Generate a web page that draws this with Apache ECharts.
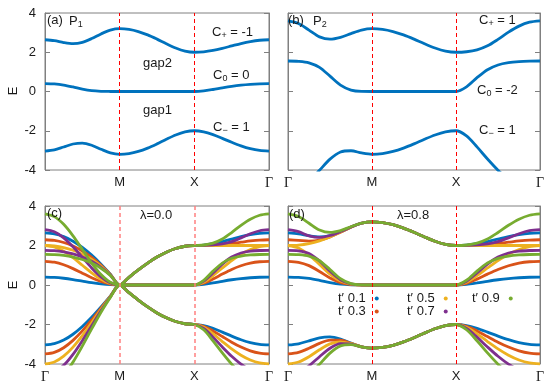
<!DOCTYPE html>
<html>
<head>
<meta charset="utf-8">
<script src="https://cdn.jsdelivr.net/npm/echarts@6/dist/echarts.min.js"></script>
<style>
  html, body { margin: 0; padding: 0; background: #fff; }
  #bands { width: 556px; height: 389px; }
</style>
</head>
<body>
<div id="bands"></div>
<script>
// k-path Γ(0) - M(1) - X(2) - Γ(3), eight steps per segment
const kPath = [0, 0.125, 0.25, 0.375, 0.5, 0.625, 0.75, 0.875,
  1, 1.125, 1.25, 1.375, 1.5, 1.625, 1.75, 1.875,
  2, 2.125, 2.25, 2.375, 2.5, 2.625, 2.75, 2.875, 3];
const kNames = ["Γ", "M", "X", "Γ"];
const kNamesA = ["", "M", "X", "Γ"];
const energyTicks = [-4, -2, 0, 2, 4];
const tPrimes = ["t′ 0.1", "t′ 0.3", "t′ 0.5", "t′ 0.7", "t′ 0.9"];

// Γ -> M, lambda = 0.0 (rows: t' = 0.1 ... 0.9)
const gmUp0 = [
  [2.636, 2.589, 2.448, 2.218, 1.903, 1.511, 1.054, 0.544, 0],
  [2.291, 2.256, 2.151, 1.973, 1.722, 1.397, 0.998, 0.530, 0],
  [2.0, 1.974, 1.896, 1.760, 1.562, 1.293, 0.946, 0.515, 0],
  [1.756, 1.737, 1.679, 1.575, 1.419, 1.198, 0.896, 0.501, 0],
  [1.553, 1.539, 1.495, 1.416, 1.293, 1.111, 0.850, 0.488, 0]
];
const gmMid0 = [
  [0.4, 0.385, 0.341, 0.277, 0.2, 0.123, 0.059, 0.015, 0],
  [1.2, 1.154, 1.024, 0.830, 0.6, 0.370, 0.176, 0.046, 0],
  [2.0, 1.924, 1.707, 1.383, 1.0, 0.617, 0.293, 0.076, 0],
  [2.8, 2.693, 2.390, 1.936, 1.4, 0.864, 0.410, 0.107, 0],
  [3.6, 3.463, 3.073, 2.489, 1.8, 1.111, 0.527, 0.137, 0]
];
const gmLo0 = [
  [-3.036, -2.973, -2.790, -2.494, -2.103, -1.635, -1.111, -0.560, 0],
  [-3.491, -3.411, -3.175, -2.803, -2.322, -1.768, -1.174, -0.575, 0],
  [-4.0, -3.898, -3.603, -3.143, -2.562, -1.910, -1.239, -0.592, 0],
  [-4.556, -4.430, -4.069, -3.511, -2.819, -2.062, -1.306, -0.608, 0],
  [-5.153, -5.002, -4.568, -3.905, -3.093, -2.223, -1.377, -0.625, 0]
];

// Γ -> M, lambda = 0.8
const gmUp8 = [
  [2.636, 2.592, 2.496, 2.441, 2.506, 2.696, 2.935, 3.127, 3.2],
  [2.291, 2.262, 2.226, 2.276, 2.436, 2.676, 2.931, 3.127, 3.2],
  [2.0, 2.024, 2.101, 2.236, 2.432, 2.679, 2.933, 3.127, 3.2],
  [2.8, 2.699, 2.492, 2.411, 2.507, 2.706, 2.939, 3.128, 3.2],
  [3.6, 3.466, 3.128, 2.785, 2.664, 2.757, 2.950, 3.128, 3.2]
];
const gmMid8 = [
  [0.4, 0.384, 0.330, 0.234, 0.122, 0.041, 0.008, 0.001, 0],
  [1.2, 1.151, 0.980, 0.682, 0.353, 0.122, 0.024, 0.001, 0],
  [2.0, 1.876, 1.529, 1.043, 0.551, 0.198, 0.039, 0.002, 0],
  [1.756, 1.733, 1.600, 1.222, 0.697, 0.266, 0.055, 0.003, 0],
  [1.553, 1.537, 1.462, 1.230, 0.784, 0.323, 0.069, 0.004, 0]
];
const gmLo8 = [
  [-3.036, -2.976, -2.827, -2.675, -2.628, -2.737, -2.943, -3.128, -3.2],
  [-3.491, -3.413, -3.206, -2.957, -2.789, -2.798, -2.955, -3.128, -3.2],
  [-4.0, -3.900, -3.630, -3.279, -2.983, -2.877, -2.972, -3.129, -3.2],
  [-4.556, -4.432, -4.093, -3.633, -3.204, -2.971, -2.993, -3.131, -3.2],
  [-5.153, -5.003, -4.589, -4.016, -3.448, -3.081, -3.019, -3.132, -3.2]
];

// M -> X, same for every t'
const mxUp0 = [0, 0.390, 0.765, 1.111, 1.414, 1.663, 1.848, 1.962, 2];
const mxMid0 = [0, 0, 0, 0, 0, 0, 0, 0, 0];
const mxLo0 = [0, -0.390, -0.765, -1.111, -1.414, -1.663, -1.848, -1.962, -2];
const mxUp8 = [3.2, 3.163, 3.054, 2.883, 2.668, 2.434, 2.217, 2.059, 2];
const mxMid8 = [0, 0, 0, 0, 0, 0, 0, 0, 0];
const mxLo8 = [-3.2, -3.163, -3.054, -2.883, -2.668, -2.434, -2.217, -2.059, -2];

// X -> Γ, same for both lambda
const xgUp = [
  [2, 2.024, 2.094, 2.199, 2.322, 2.444, 2.545, 2.612, 2.636],
  [2, 2.006, 2.026, 2.059, 2.108, 2.168, 2.229, 2.274, 2.291],
  [2, 2, 2, 2, 2, 2, 2, 2, 2],
  [2, 2.006, 2.029, 2.082, 2.195, 2.387, 2.597, 2.747, 2.8],
  [2, 2.026, 2.120, 2.327, 2.657, 3.023, 3.331, 3.531, 3.6]
];
const xgMid = [
  [0, 0.029, 0.102, 0.188, 0.266, 0.327, 0.368, 0.392, 0.4],
  [0, 0.087, 0.299, 0.551, 0.787, 0.974, 1.104, 1.177, 1.2],
  [0, 0.142, 0.474, 0.863, 1.236, 1.556, 1.798, 1.949, 2.0],
  [0, 0.193, 0.612, 1.058, 1.414, 1.619, 1.710, 1.746, 1.756],
  [0, 0.239, 0.704, 1.111, 1.352, 1.467, 1.521, 1.545, 1.553]
];
const xgLo = [
  [-2, -2.054, -2.196, -2.387, -2.588, -2.770, -2.914, -3.004, -3.036],
  [-2, -2.093, -2.324, -2.611, -2.895, -3.142, -3.332, -3.451, -3.491],
  [-2, -2.142, -2.474, -2.863, -3.236, -3.556, -3.798, -3.949, -4.0],
  [-2, -2.200, -2.641, -3.140, -3.609, -4.006, -4.307, -4.493, -4.556],
  [-2, -2.265, -2.824, -3.438, -4.009, -4.490, -4.852, -5.077, -5.153]
];

const colors = ["#0072bd", "#d95319", "#edb120", "#7e2f8e", "#77ac30"];
const frameColor = "#808080";
const textColor = "#1a1a1a";
const sans = '"Liberation Sans", Arial, sans-serif';

const chart = echarts.init(document.getElementById("bands"));

function band(gm, mx, xg) {
  const v = gm.concat(mx.slice(1), xg.slice(1));
  return kPath.map((k, i) => [k, v[i]]);
}

function lineSeries(g, name, color, data) {
  return {
    type: "line", name: name, xAxisIndex: g, yAxisIndex: g,
    data: data, smooth: 0.3, symbol: "none", showSymbol: false,
    color: color, lineStyle: { width: 2.8, color: color },
    z: 3, silent: true
  };
}

function dashed(g, color, width) {
  return {
    type: "line", xAxisIndex: g, yAxisIndex: g, data: [], z: 1, silent: true,
    markLine: {
      silent: true, symbol: "none", label: { show: false },
      lineStyle: { type: [4, 3], color: color, width: width },
      data: [{ xAxis: 1 }, { xAxis: 2 }]
    }
  };
}

const grids = [
  { left: 45, top: 13, width: 224, height: 157 },
  { left: 288, top: 13, width: 252, height: 157 },
  { left: 45, top: 206, width: 224, height: 158 },
  { left: 288, top: 206, width: 252, height: 158 }
].map(g => Object.assign(g, { show: true, borderColor: frameColor, borderWidth: 1 }));

const xAxes = grids.map((g, i) => ({
  gridIndex: i, type: "value", min: 0, max: 3, interval: 1,
  axisLine: { show: false }, axisTick: { show: false }, splitLine: { show: false },
  axisLabel: {
    margin: 6, fontSize: 13, color: textColor, fontFamily: sans,
    formatter: v => {
      const s = (i === 0 ? kNamesA : kNames)[Math.round(v)];
      return s === "Γ" ? "{g|Γ}" : s;
    },
    rich: { g: { fontFamily: '"Liberation Serif", serif', fontSize: 14, color: textColor } }
  }
}));

function yAxis(i, side) {
  return {
    gridIndex: i, type: "value", position: side,
    min: energyTicks[0], max: energyTicks[energyTicks.length - 1], interval: 2,
    axisLine: { show: true, lineStyle: { color: frameColor } },
    axisTick: { show: true, inside: true, length: 5, lineStyle: { color: frameColor } },
    splitLine: { show: false },
    axisLabel: {
      show: side === "left" && (i === 0 || i === 2),
      margin: 9, fontSize: 13, color: textColor, fontFamily: sans
    }
  };
}
const yAxes = [0, 1, 2, 3].map(i => yAxis(i, "left"))
  .concat([0, 1, 2, 3].map(i => yAxis(i, "right")));

const series = [
  dashed(0, "#ff0000", 1), dashed(1, "#ff0000", 1),
  dashed(2, "#ff8080", 1.5), dashed(3, "#ff0000", 1)
];

// (a) P1 and (b) P2
[[0, 0], [1, 4]].forEach(([g, t]) => {
  series.push(lineSeries(g, "P" + (g + 1), colors[0], band(gmUp8[t], mxUp8, xgUp[t])));
  series.push(lineSeries(g, "P" + (g + 1), colors[0], band(gmMid8[t], mxMid8, xgMid[t])));
  series.push(lineSeries(g, "P" + (g + 1), colors[0], band(gmLo8[t], mxLo8, xgLo[t])));
});

// (c) lambda = 0.0 and (d) lambda = 0.8
tPrimes.forEach((name, t) => {
  series.push(lineSeries(2, name, colors[t], band(gmUp0[t], mxUp0, xgUp[t])));
  series.push(lineSeries(2, name, colors[t], band(gmMid0[t], mxMid0, xgMid[t])));
  series.push(lineSeries(2, name, colors[t], band(gmLo0[t], mxLo0, xgLo[t])));
});
tPrimes.forEach((name, t) => {
  series.push(lineSeries(3, name, colors[t], band(gmUp8[t], mxUp8, xgUp[t])));
  series.push(lineSeries(3, name, colors[t], band(gmMid8[t], mxMid8, xgMid[t])));
  series.push(lineSeries(3, name, colors[t], band(gmLo8[t], mxLo8, xgLo[t])));
});

const legendBase = {
  orient: "vertical", align: "right", icon: "circle", itemWidth: 12, itemHeight: 4,
  itemGap: 0, padding: 0, selectedMode: false, top: 292,
  textStyle: { fontSize: 13, color: textColor, fontFamily: sans }
};
const legends = [
  Object.assign({ left: 338, data: [tPrimes[0], tPrimes[1]] }, legendBase),
  Object.assign({ left: 407, data: [tPrimes[2], tPrimes[3]] }, legendBase),
  Object.assign({ left: 472, data: [tPrimes[4]] }, legendBase)
];

const sub = { fontSize: 9, lineHeight: 9, verticalAlign: "bottom", fontFamily: sans, fill: textColor };
function label(x, y, text, rot) {
  return {
    type: "text", x: x, y: y, rotation: rot || 0, z: 10, silent: true,
    style: {
      text: text, fill: textColor, fontSize: 13, fontFamily: sans, lineHeight: 16,
      align: rot ? "center" : "left", verticalAlign: "middle", rich: { s: sub }
    }
  };
}

const option = {
  animation: false,
  backgroundColor: "#fff",
  grid: grids,
  xAxis: xAxes,
  yAxis: yAxes,
  legend: legends,
  series: series,
  graphic: [
    label(13, 91, "E", Math.PI / 2),
    label(13, 285, "E", Math.PI / 2),
    label(47, 20, "(a)"),
    label(69, 21, "P{s|1}"),
    label(212, 32, "C{s|+} = -1"),
    label(143, 63, "gap2"),
    label(213, 75, "C{s|0} = 0"),
    label(143, 110, "gap1"),
    label(213, 127, "C{s|−} = 1"),
    label(288, 20, "(b)"),
    label(313, 21, "P{s|2}"),
    label(479, 20, "C{s|+} = 1"),
    label(477, 90, "C{s|0} = -2"),
    label(479, 130, "C{s|−} = 1"),
    label(47, 213, "(c)"),
    label(140, 215, "λ=0.0"),
    label(289, 214, "(d)"),
    label(397, 215, "λ=0.8")
  ]
};

chart.setOption(option);
</script>
</body>
</html>
